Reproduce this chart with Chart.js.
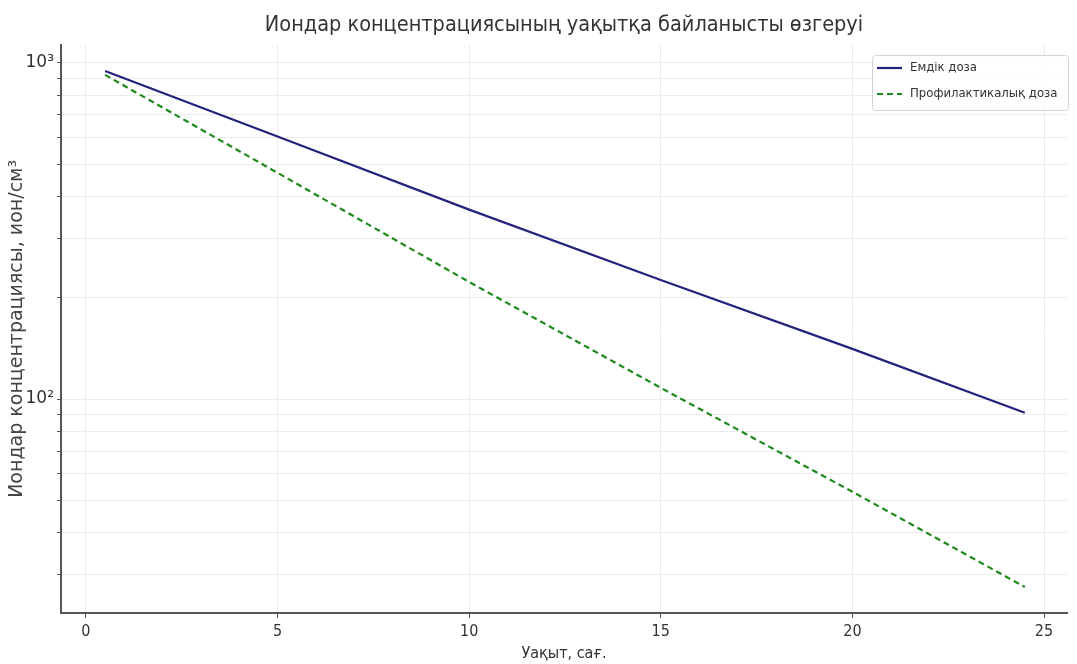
<!DOCTYPE html>
<html>
<head>
<meta charset="utf-8">
<script src="https://cdn.jsdelivr.net/npm/chart.js@4.4.1/dist/chart.umd.min.js"></script>
<style>
  body { margin: 0; background: #fff; }
  #wrap { width: 1077px; height: 664px; }
</style>
</head>
<body>
<div id="wrap"><canvas id="chart"></canvas></div>
<script>
// уақыт, сағ.
const hours = [0.5, 5, 10, 15, 20, 24.5];
// концентрация, ион/см³
const therapeuticDose = [946, 604, 366, 226, 141, 91];
const preventiveDose = [921, 471, 223, 108, 53, 27.6];

const seriesLabels = ['Емдік доза', 'Профилактикалық доза'];
const xTicks = [0, 5, 10, 15, 20, 25];
const yTicks = [30, 40, 50, 60, 70, 80, 90, 100, 200, 300, 400, 500, 600, 700, 800, 900, 1000];
const yTickLabels = { 100: '10²', 1000: '10³' };

const condensed = "'DejaVu Sans Condensed', 'DejaVu Sans', sans-serif";

// matplotlib-style legend box in the upper right corner
const boxLegend = {
  id: 'boxLegend',
  afterDraw(chart) {
    const ctx = chart.ctx;
    const x = 872, y = 55, w = 196, h = 55;
    ctx.save();
    ctx.fillStyle = 'rgba(255,255,255,0.85)';
    ctx.strokeStyle = '#d4d4d4';
    ctx.lineWidth = 1;
    ctx.beginPath();
    ctx.roundRect(x + 0.5, y + 0.5, w, h, 3);
    ctx.fill();
    ctx.stroke();
    chart.data.datasets.forEach((ds, i) => {
      const ly = y + 13 + i * 26;
      ctx.strokeStyle = ds.borderColor;
      ctx.lineWidth = ds.borderWidth;
      ctx.setLineDash(ds.borderDash || []);
      ctx.beginPath();
      ctx.moveTo(x + 5, ly);
      ctx.lineTo(x + 30, ly);
      ctx.stroke();
      ctx.setLineDash([]);
      ctx.fillStyle = '#333';
      ctx.font = "13px " + condensed;
      ctx.textBaseline = 'middle';
      ctx.fillText(ds.label, x + 38, ly);
    });
    ctx.restore();
  }
};

const data = {
  datasets: [
    {
      label: seriesLabels[0],
      data: hours.map((h, i) => ({ x: h, y: therapeuticDose[i] })),
      borderColor: '#23237e',
      borderWidth: 2.2,
      pointRadius: 0,
      tension: 0
    },
    {
      label: seriesLabels[1],
      data: hours.map((h, i) => ({ x: h, y: preventiveDose[i] })),
      borderColor: '#1e8a1e',
      borderWidth: 2.2,
      borderDash: [6, 4],
      pointRadius: 0,
      tension: 0
    }
  ]
};

new Chart(document.getElementById('chart'), {
  type: 'line',
  data: data,
  plugins: [boxLegend],
  options: {
    responsive: true,
    maintainAspectRatio: false,
    animation: false,
    layout: { padding: { right: 10, left: 0, bottom: 0, top: 0 } },
    plugins: {
      legend: { display: false },
      tooltip: { enabled: false },
      title: {
        display: true,
        fullSize: false,
        text: 'Иондар концентрациясының уақытқа байланысты өзгеруі',
        color: '#333',
        font: { family: condensed, size: 21.5, weight: 'normal' },
        padding: { top: 13, bottom: 6 }
      }
    },
    scales: {
      x: {
        type: 'linear',
        min: -0.65,
        max: 25.6,
        afterBuildTicks: (scale) => { scale.ticks = xTicks.map(v => ({ value: v })); },
        afterFit: (scale) => { scale.height = 51; },
        border: { display: true, color: '#555', width: 2 },
        grid: { color: '#ebebeb', tickColor: '#555', tickLength: 5, lineWidth: 1 },
        ticks: {
          color: '#333',
          padding: 4,
          maxRotation: 0,
          font: { family: condensed, size: 16 }
        },
        title: {
          display: true,
          text: 'Уақыт, сағ.',
          color: '#333',
          font: { family: condensed, size: 16 },
          padding: { top: 0, bottom: 1 }
        }
      },
      y: {
        type: 'logarithmic',
        min: 23.1,
        max: 1132,
        afterBuildTicks: (scale) => { scale.ticks = yTicks.map(v => ({ value: v })); },
        afterFit: (scale) => { scale.width = 61; },
        border: { display: true, color: '#555', width: 2 },
        grid: { color: '#ebebeb', tickColor: '#555', tickLength: 4, lineWidth: 1 },
        ticks: {
          color: '#333',
          padding: 3,
          autoSkip: false,
          font: { family: "'DejaVu Sans', sans-serif", size: 17 },
          callback: (v) => yTickLabels[v] || ''
        },
        title: {
          display: true,
          text: 'Иондар концентрациясы, ион/см³',
          color: '#444',
          font: { family: "'DejaVu Sans', sans-serif", size: 19 },
          padding: { top: 6, bottom: 0 }
        }
      }
    }
  }
});
</script>
</body>
</html>
